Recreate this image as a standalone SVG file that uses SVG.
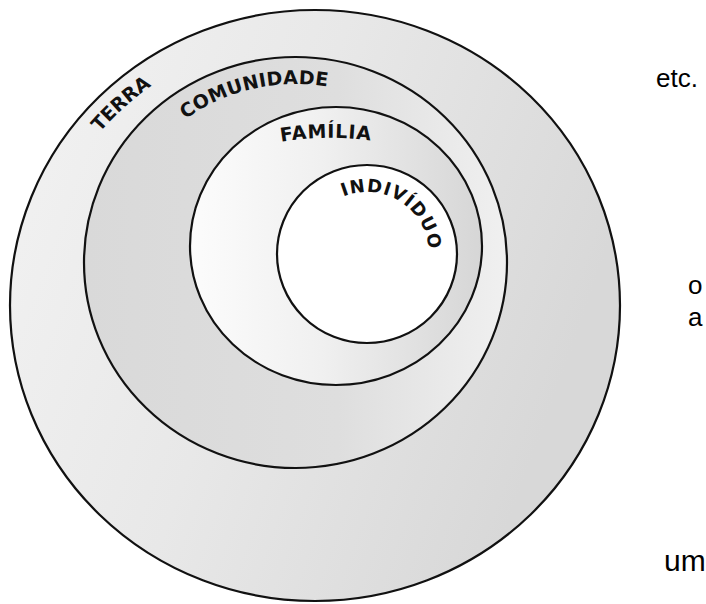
<svg xmlns="http://www.w3.org/2000/svg" width="706" height="604" viewBox="0 0 706 604">
<defs>
<linearGradient id="gOuter" x1="0" y1="0" x2="1" y2="0.35">
<stop offset="0" stop-color="#f3f3f3"/>
<stop offset="0.5" stop-color="#e8e8e8"/>
<stop offset="1" stop-color="#d8d8d8"/>
</linearGradient>
<linearGradient id="gCom" x1="0" y1="0" x2="1" y2="0">
<stop offset="0" stop-color="#d9d9d9"/>
<stop offset="0.6" stop-color="#dedede"/>
<stop offset="1" stop-color="#f0f0f0"/>
</linearGradient>
<linearGradient id="gFam" x1="0" y1="0" x2="1" y2="0">
<stop offset="0" stop-color="#fcfcfc"/>
<stop offset="0.45" stop-color="#f0f0f0"/>
<stop offset="1" stop-color="#d6d6d6"/>
</linearGradient>
<path id="pTerra" d="M 37 272 A 279 270 0 0 1 297 36"/>
<path id="pCom" d="M 130.4 182.9 A 184.5 178.5 0 0 1 405.2 119.0"/>
<path id="pFam" d="M 230 155 A 300 300 0 0 1 430 155"/>
<path id="pInd" d="M 328.8 205.1 A 62 62 0 0 1 427.6 266.9"/>
</defs>
<style>
.ring{stroke:#111;stroke-width:2.2}
.lbl{font-family:"DejaVu Sans",sans-serif;font-weight:bold;font-size:19px;fill:#111}
.side{font-family:"Liberation Sans",Arial,sans-serif;font-size:26px;fill:#000}
</style>
<rect width="706" height="604" fill="#fff"/>
<g id="terra">
<ellipse class="ring" cx="315" cy="305.5" rx="305" ry="295.5" fill="url(#gOuter)"/>
<text class="lbl"><textPath href="#pTerra" startOffset="50%" text-anchor="middle">TERRA</textPath></text>
</g>
<g id="comunidade">
<ellipse class="ring" cx="295.5" cy="262.5" rx="211.5" ry="205.5" fill="url(#gCom)"/>
<text class="lbl" style="letter-spacing:0.3px"><textPath href="#pCom" startOffset="50%" text-anchor="middle">COMUNIDADE</textPath></text>
</g>
<g id="familia">
<ellipse class="ring" cx="336" cy="246" rx="146" ry="139" fill="url(#gFam)"/>
<text class="lbl" style="letter-spacing:0.7px"><textPath href="#pFam" startOffset="48%" text-anchor="middle">FAMÍLIA</textPath></text>
</g>
<g id="individuo">
<ellipse class="ring" cx="367" cy="254" rx="90" ry="89" fill="#fff"/>
<text class="lbl" style="font-size:18px;letter-spacing:1px"><textPath href="#pInd" startOffset="50%" text-anchor="middle">INDIVÍDUO</textPath></text>
</g>
<g id="connectors"/>
<g id="side-text">
<text class="side" x="656" y="87">etc.</text>
<text class="side" x="688" y="294">o</text>
<text class="side" x="688" y="326">a</text>
<text class="side" x="664" y="571" style="font-size:30px">um</text>
</g>
</svg>
